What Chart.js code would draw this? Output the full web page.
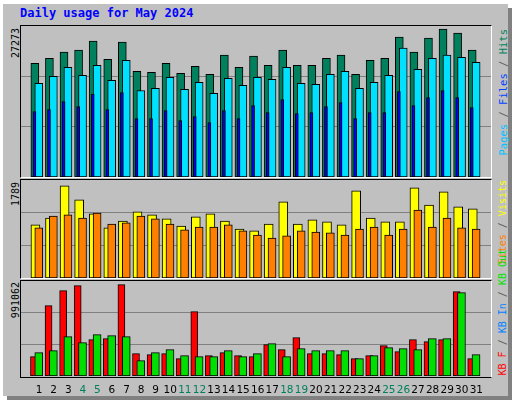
<!DOCTYPE html>
<html><head><meta charset="utf-8">
<script src="https://cdn.jsdelivr.net/npm/chart.js@4"></script>
<style>
html,body{margin:0;padding:0;background:#fff;width:512px;height:400px;overflow:hidden}
#bg{position:absolute;left:3px;top:4px;width:505px;height:392px;background:#C0C0C0;box-shadow:4px 4px 0 #808080}
.panel{position:absolute;left:20px;width:470px;border:1px solid;border-color:#000 #fff #fff #000;background:#C0C0C0}
canvas{display:block}
.vt{position:absolute;writing-mode:vertical-rl;transform:rotate(180deg);font-family:"DejaVu Sans Mono",monospace;white-space:nowrap}
#title{position:absolute;left:20px;top:6px;font:bold 12px "DejaVu Sans Mono",monospace;color:#0000FF}
</style></head><body>
<div id="bg"></div>
<div id="title">Daily usage for May 2024</div>
<div class="panel" style="top:25px;height:151px"><canvas id="c1" width="470" height="151"></canvas></div>
<div class="panel" style="top:179px;height:98px"><canvas id="c2" width="470" height="98"></canvas></div>
<div class="panel" style="top:280px;height:96px;border-bottom-color:#000"></div>
<div style="position:absolute;left:21px;top:281px;width:470px;height:118px"><canvas id="c3" width="470" height="118"></canvas></div>
<div class="vt" style="left:10px;top:28px;font-size:10px">27273</div>
<div class="vt" style="left:10px;top:182px;font-size:10px">1789</div>
<div class="vt" style="left:10px;top:282px;font-size:10px">991062</div>
<div class="vt" style="left:497px;top:29px;font-size:10.5px"><span style="color:#00C0FF">Pages</span><span style="color:#606060"> / </span><span style="color:#0040FF">Files</span><span style="color:#606060"> / </span><span style="color:#00805C">Hits</span></div>
<div class="vt" style="left:497px;top:180px;font-size:10px"><span style="color:#FF8000">Sites</span><span style="color:#606060"> / </span><span style="color:#FFFF00">Visits</span></div>
<div class="vt" style="left:497px;bottom:25px;font-size:10px"><span style="color:#FF0000">KB F</span><span style="color:#606060"> / </span><span style="color:#0080FF">KB In</span><span style="color:#606060"> / </span><span style="color:#00E000">KB Out</span></div>
<script>
const days = Array.from({length:31},(_,i)=>i+1);
const weekendDays = [4,5,11,12,18,19,25,26];
const hits = [20540,21450,22540,22910,24540,21270,24360,19090,18910,20540,18730,20000,18540,22000,19820,21820,20180,22910,20180,20180,21450,22000,18540,21090,21450,25270,22540,25090,26720,26000,22910];
const files = [16910,18180,19820,18360,20180,17450,21090,15630,16000,18000,15820,17090,15090,17820,16540,18000,17630,19820,16910,16730,18540,19090,16000,17090,18360,23270,19450,21450,22000,21630,20730];
const pages = [11820,12180,13640,12730,14910,12180,15270,10540,10540,12000,10180,10910,9820,12000,10540,12910,11640,14000,11450,11640,12730,13450,10540,11640,11640,15450,12910,14360,15630,14360,12540];
const visits = [988,1118,1715,1454,1193,932,1062,1230,1174,1100,969,1137,1193,1062,913,876,1006,1416,1006,1081,1044,988,1621,1118,1044,1044,1677,1360,1603,1323,1286];
const sites = [932,1155,1174,1118,1211,1006,1025,1155,1100,1006,895,950,950,988,876,801,745,783,876,857,839,801,913,950,801,913,1267,950,1118,932,913];
const kbF = [201670,733650,890110,942270,379000,389420,952700,232960,222530,232960,180800,671060,212100,243390,212100,201670,326840,274680,399860,232960,232960,222530,180800,212100,316410,253820,379000,358130,379000,879680,180800];
const kbOut = [243390,264250,410290,347700,431150,420720,410290,159940,243390,274680,212100,201670,201670,264250,201670,232960,337270,201670,285110,264250,264250,264250,180800,212100,295540,285110,274680,389420,389420,869250,222530];
const kbIn = [3000,3000,3000,3000,3000,3000,3000,3000,3000,3000,3000,3000,3000,3000,3000,3000,3000,3000,3000,3000,3000,3000,3000,3000,3000,3000,3000,3000,3000,3000,3000];
const maxTop = 27273, maxMid = 1789, maxBot = 991062;

function ds(vals, shift, color, w){
  return {data: vals.map((v,i)=>({x:days[i]+shift,y:v})), backgroundColor:color, borderColor:'#000',
    borderWidth:1, borderSkipped:false, barThickness:w, grouped:false};
}
function make(id, datasets, max, showX){
  new Chart(document.getElementById(id), {
    type:'bar', data:{datasets},
    options:{responsive:false, animation:false, events:[],
      layout:{padding:0},
      plugins:{legend:{display:false}, tooltip:{enabled:false}},
      scales:{
        x:{type:'linear', min:0.4, max:31.6, display:showX, border:{display:false},
          grid:{display:false, drawTicks:false},
          afterBuildTicks:s=>{s.ticks=days.map(d=>({value:d+0.12}));},
          afterFit:s=>{s.height=showX?23:0;},
          ticks:{padding:8, autoSkip:false, maxRotation:0, font:{family:'DejaVu Sans', size:10.5},
            callback:(v)=>String(Math.round(v)),
            color:c=>weekendDays.includes(Math.round(c.tick.value))?'#00805C':'#000'}},
        y:{min:0, max:max, display:true, border:{display:false},
          afterBuildTicks:s=>{s.ticks=[{value:max/3},{value:2*max/3}];},
          afterFit:s=>{s.width=0;},
          ticks:{display:false}, grid:{color:'#808080', lineWidth:1, drawTicks:false}}
      }}
  });
}
make('c1',[ds(pages,-0.2,'#0000FF',3), ds(files,0.1,'#00E0FF',8), ds(hits,-0.17,'#00805C',8)], maxTop, false);
make('c2',[ds(sites,0.1,'#FF8000',8), ds(visits,-0.13,'#FFFF00',9)], maxMid*1.02, false);
make('c3',[ds(kbIn,-0.2,'#0080FF',3), ds(kbOut,0.1,'#00E000',8), ds(kbF,-0.23,'#FF0000',7)], maxBot, true);
</script>
</body></html>
